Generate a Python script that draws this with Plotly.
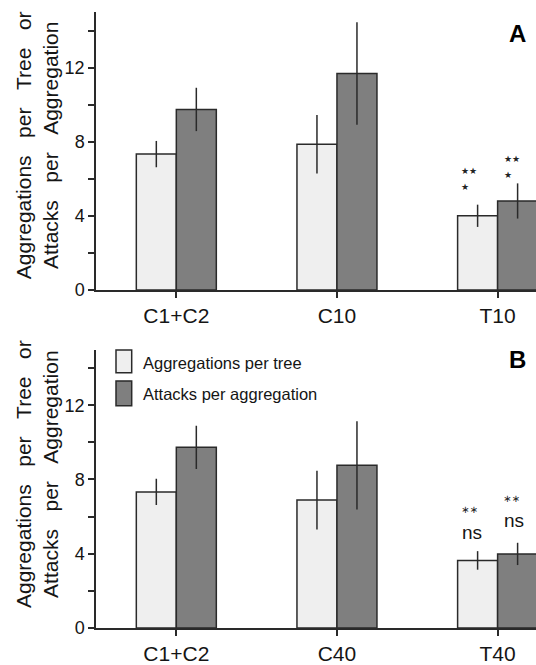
import plotly.graph_objects as go

# ---------------- data ----------------
categories_A = ["C1+C2", "C10", "T10"]
agg_A = [7.33, 7.86, 4.00]
agg_A_err = [0.71, 1.58, 0.60]
att_A = [9.74, 11.68, 4.80]
att_A_err = [1.17, 2.76, 0.95]

categories_B = ["C1+C2", "C40", "T40"]
agg_B = [7.33, 6.89, 3.64]
agg_B_err = [0.71, 1.58, 0.50]
att_B = [9.73, 8.76, 3.99]
att_B_err = [1.16, 2.38, 0.60]

series_names = ["Aggregations per tree", "Attacks per aggregation"]
y_ticks = [0, 4, 8, 12]

# ---------------- style ----------------
FONT = "Liberation Sans, Arial, Helvetica, sans-serif"
LIGHT = "#efefef"
DARK = "#7f7f7f"
EDGE = "#2a2a2a"
TXT = "#151515"

W, H = 536, 665
ML, MR, MT, MB = 96, 0, 12, 33
PW, PH = W - ML - MR, H - MT - MB


def px2paper_x(px):
    return (px - ML) / PW


def px2paper_y(py):
    return (H - MB - py) / PH


fig = go.Figure()


def add_bars(cats, vals, errs, color, name, xa, ya):
    fig.add_trace(go.Bar(
        x=cats, y=vals, name=name, xaxis=xa, yaxis=ya,
        marker=dict(color=color, line=dict(color=EDGE, width=1.5)),
        error_y=dict(type="data", array=errs, visible=True, width=0,
                     thickness=1.5, color=EDGE),
        showlegend=False,
    ))


add_bars(categories_A, agg_A, agg_A_err, LIGHT, series_names[0], "x", "y")
add_bars(categories_A, att_A, att_A_err, DARK, series_names[1], "x", "y")
add_bars(categories_B, agg_B, agg_B_err, LIGHT, series_names[0], "x2", "y2")
add_bars(categories_B, att_B, att_B_err, DARK, series_names[1], "x2", "y2")

xr = [-0.5, 2.239]
xcommon = dict(showline=True, linecolor=EDGE, linewidth=1.5, ticks="outside",
               ticklen=6, tickwidth=1.5, tickcolor=EDGE, showgrid=False,
               zeroline=False, range=xr,
               tickfont=dict(family=FONT, size=21, color=TXT))
ycommon = dict(showline=True, linecolor=EDGE, linewidth=1.5, ticks="outside",
               ticklen=6, tickwidth=1.5, tickcolor=EDGE, showgrid=False,
               zeroline=False, range=[0, 15], tickmode="array",
               tickvals=y_ticks,
               minor=dict(dtick=2, tick0=0, ticks="outside", ticklen=6,
                          tickwidth=1.5, tickcolor=EDGE, showgrid=False),
               tickfont=dict(family=FONT, size=18, color=TXT))

top_dom = [px2paper_y(291.7), 1.0]
bot_dom = [0.0, px2paper_y(351.7)]

fig.update_layout(
    width=W, height=H,
    margin=dict(l=ML, r=MR, t=MT, b=MB, pad=0),
    paper_bgcolor="white", plot_bgcolor="white",
    barmode="group", bargap=0.502, bargroupgap=0,
    xaxis=dict(xcommon, anchor="y", domain=[0, 1]),
    yaxis=dict(ycommon, anchor="x", domain=top_dom),
    xaxis2=dict(xcommon, anchor="y2", domain=[0, 1]),
    yaxis2=dict(ycommon, anchor="x2", domain=bot_dom),
    font=dict(family=FONT, color=TXT),
)

annotations = []
gap = "\u00a0" * 3
ytitle = ("Aggregations" + gap + "per" + gap + "Tree" + gap + "or<br>"
          + "Attacks" + gap + "per" + gap + "Aggregation")
for cy in (146, 477):
    annotations.append(dict(
        text=ytitle, xref="paper", yref="paper",
        x=px2paper_x(37), y=px2paper_y(cy), xanchor="center", yanchor="middle",
        textangle=-90, showarrow=False,
        font=dict(family=FONT, size=21, color=TXT)))

# panel letters
for letter, cy in (("A", 33.3), ("B", 361.7)):
    annotations.append(dict(
        text="<b>%s</b>" % letter, xref="paper", yref="paper",
        x=px2paper_x(517), y=px2paper_y(cy), xanchor="center", yanchor="middle",
        showarrow=False, font=dict(family=FONT, size=24, color="#000")))

# significance marks, top panel (stars)
star_font = dict(family="DejaVu Sans", size=9, color="#222")
for txt, xv, yv in (("\u2605\u2605", 1.821, 6.40), ("\u2605", 1.796, 5.54),
                    ("\u2605\u2605", 2.089, 7.06), ("\u2605", 2.064, 6.20)):
    annotations.append(dict(text=txt, xref="x", yref="y", x=xv, y=yv,
                            xanchor="center", yanchor="middle",
                            showarrow=False, font=star_font))

# significance marks, bottom panel
ast_font = dict(family="DejaVu Sans", size=10, color="#222")
ns_font = dict(family=FONT, size=19, color=TXT)
for txt, xv, yv, fnt in (("\u2217\u2217", 1.824, 6.38, ast_font),
                         ("ns", 1.843, 5.17, ns_font),
                         ("\u2217\u2217", 2.089, 6.97, ast_font),
                         ("ns", 2.101, 5.79, ns_font)):
    annotations.append(dict(text=txt, xref="x2", yref="y2", x=xv, y=yv,
                            xanchor="center", yanchor="middle",
                            showarrow=False, font=fnt))

# manual legend (bottom panel)
shapes = []
for (y0, y1), col, name, ty in (((352.3, 375.0), LIGHT, series_names[0], 365.0),
                                 ((383.3, 408.3), DARK, series_names[1], 396.0)):
    shapes.append(dict(type="rect", xref="paper", yref="paper",
                       x0=px2paper_x(116), x1=px2paper_x(131.7),
                       y0=px2paper_y(y1), y1=px2paper_y(y0),
                       fillcolor=col, line=dict(color=EDGE, width=1.5)))
    annotations.append(dict(text=name, xref="paper", yref="paper",
                            x=px2paper_x(141), y=px2paper_y(ty),
                            xanchor="left", yanchor="middle", showarrow=False,
                            font=dict(family=FONT, size=16.5, color=TXT)))

fig.update_layout(annotations=annotations, shapes=shapes)

fig.write_html("out.html")
